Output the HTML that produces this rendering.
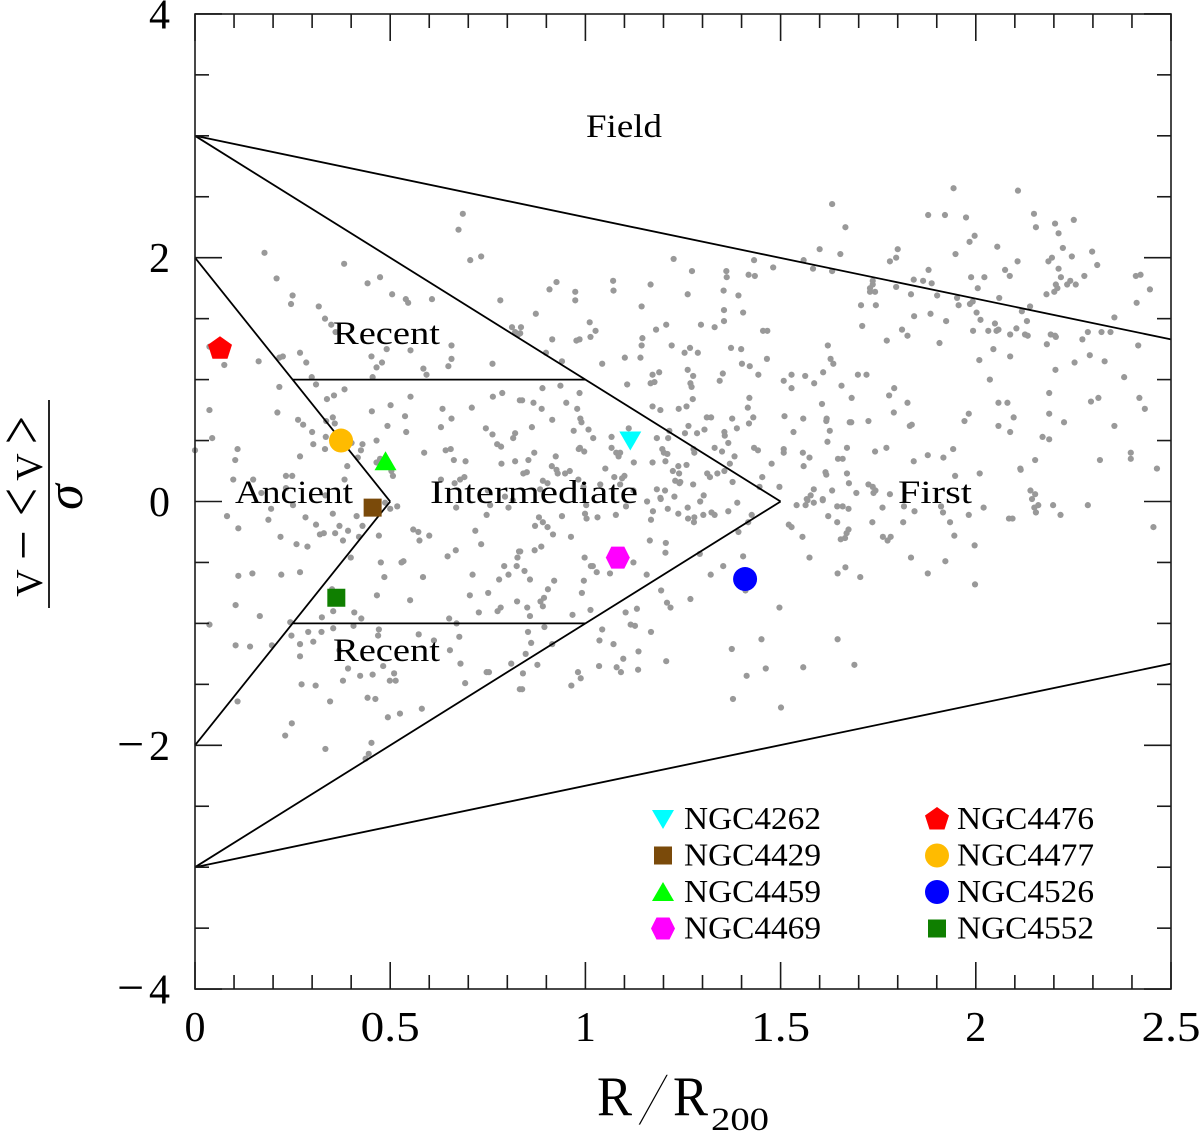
<!DOCTYPE html>
<html lang="en">
<head>
<meta charset="utf-8">
<title>Phase-space diagram</title>
<style>
html,body{margin:0;padding:0;background:#fff;width:1200px;height:1141px;overflow:hidden}
svg{display:block}
text{font-family:"Liberation Serif",serif;fill:#000}
</style>
</head>
<body>
<svg id="chart" xmlns="http://www.w3.org/2000/svg" width="1200" height="1141" viewBox="0 0 1200 1141">
<g id="points"></g>
<g id="regions"></g>
<g id="axes"></g>
<g id="region-labels" font-size="33">
<text x="586" y="137" textLength="76" lengthAdjust="spacingAndGlyphs">Field</text>
<text x="333" y="344" textLength="107" lengthAdjust="spacingAndGlyphs">Recent</text>
<text x="333" y="661" textLength="107" lengthAdjust="spacingAndGlyphs">Recent</text>
<text x="235" y="503" textLength="118" lengthAdjust="spacingAndGlyphs">Ancient</text>
<text x="430" y="503" textLength="208" lengthAdjust="spacingAndGlyphs">Intermediate</text>
<text x="898" y="503" textLength="74" lengthAdjust="spacingAndGlyphs">First</text>
</g>
<g id="markers"></g>
<g id="legend"></g>
<g>
<text x="597" y="1115" font-size="56" textLength="35" lengthAdjust="spacingAndGlyphs">R</text>
<text transform="translate(637,1125) skewX(-12)" font-size="78" style="stroke:#fff;stroke-width:2.2px">/</text>
<text x="673" y="1115" font-size="56" textLength="35" lengthAdjust="spacingAndGlyphs">R</text>
<text x="711" y="1130" font-size="33" textLength="58" lengthAdjust="spacingAndGlyphs">200</text>
</g>
<g>
<text transform="translate(42,583) rotate(-90)" font-size="38" text-anchor="middle">V</text>
<text transform="translate(41,545) rotate(-90)" font-size="53" text-anchor="middle">−</text>
<text transform="translate(42,502) rotate(-90) scale(1,1.25)" font-size="50" text-anchor="middle">&lt;</text>
<text transform="translate(42,467) rotate(-90)" font-size="38" text-anchor="middle">V</text>
<text transform="translate(42,430) rotate(-90) scale(1,1.25)" font-size="50" text-anchor="middle">&gt;</text>
<line x1="49" y1="400" x2="49" y2="608" stroke="#000" stroke-width="1.7"/>
<text transform="translate(82,497) rotate(-90)" font-size="52" font-style="italic" text-anchor="middle">σ</text>
</g>
</svg>
<script>
const xTicks = [0, 0.5, 1, 1.5, 2, 2.5];
const xTickLabels = ['0', '0.5', '1', '1.5', '2', '2.5'];
const yTicks = [-4, -2, 0, 2, 4];
const yTickLabels = ['−4', '−2', '0', '2', '4'];
const xMinorStep = 0.1;
const yMinorStep = 0.5;
const regionSegments = [
  [[0, 3], [2.5, 1.33]],
  [[0, -3], [2.5, -1.33]],
  [[0, 3], [1.5, 0]],
  [[1.5, 0], [0, -3]],
  [[0, 2], [0.5, 0]],
  [[0.5, 0], [0, -2]],
  [[0.25, 1], [1, 1]],
  [[0.25, -1], [1, -1]]
];
const galaxyNames = ['NGC4262', 'NGC4429', 'NGC4459', 'NGC4469', 'NGC4476', 'NGC4477', 'NGC4526', 'NGC4552'];
const galaxyRadius = [1.115, 0.455, 0.488, 1.083, 0.064, 0.374, 1.409, 0.362];
const galaxyVelocity = [0.50, -0.05, 0.33, -0.46, 1.257, 0.50, -0.636, -0.79];
const memberPoints = [
[.686,2.36],[.675,2.23],[.705,1.98],[.733,2.01],[.178,2.04],[.382,1.95],[.209,1.83],[.442,1.79],[.474,1.84],[.25,1.69],[.246,1.62],[.317,1.6],[.505,1.7],[.54,1.66],[.546,1.63],[.607,1.66],[.782,1.65],[.812,1.43],[.82,1.39],[.828,1.37],[.333,1.5],[.349,1.45],[.36,1.39],[.657,1.28],[.491,1.25],[.552,1.24],[.452,1.19],[.479,1.14],[.465,1.1],[.585,1.09],[.593,1.04],[.649,1.11],[.657,1.17],[.762,1.13],[.455,1.02],[.163,1.15],[.216,1.18],[.225,1.19],[.269,1.22],[.285,1.14],[.299,1.02],[.31,.96],[.075,1.12],[.037,1.27],[.216,.94],[.383,.92],[.356,.87],[.338,.84],[.552,.86],[.763,.86],[.787,.89],[.832,.83],[.501,.79],[.453,.74],[.634,.76],[.709,.77],[.037,.75],[.211,.73],[.264,.67],[.277,.63],[.336,.66],[.353,.69],[.358,.64],[.538,.7],[.657,.68],[.493,.62],[.63,.61],[.3,.57],[.335,.53],[.541,.57],[.745,.6],[.762,.55],[.82,.56],[.815,.52],[.044,.52],[.303,.47],[.333,.43],[.429,.47],[.425,.42],[.465,.5],[.774,.47],[.784,.45],[.109,.43],[0,.42],[.655,.43],[.642,.42],[.587,.4],[.269,.37],[.417,.36],[.103,.34],[.663,.34],[.693,.33],[.785,.31],[.82,.33],[.39,.29],[.465,.32],[.474,.35],[.401,.48],
[.098,.18],[.149,.18],[.233,.21],[.249,.21],[.383,.18],[.503,.25],[.507,.21],[.63,.18],[.665,.15],[.679,.18],[.69,.2],[.233,.11],[.334,.05],[.17,.07],[.251,-.03],[.195,-.06],[.082,-.12],[.188,-.15],[.283,-.13],[.353,-.1],[.414,-.12],[.31,-.19],[.37,-.2],[.429,-.2],[.111,-.22],[.219,-.29],[.32,-.27],[.33,-.26],[.359,-.26],[.392,-.24],[.379,-.32],[.42,-.29],[.471,-.28],[.26,-.35],[.288,-.37],[.399,-.46],[.476,-.5],[.529,-.5],[.534,-.49],[.111,-.61],[.147,-.59],[.221,-.6],[.269,-.58],[.485,-.62],[.584,-.62],[.351,-.72],[.466,-.77],[.551,-.81],[.104,-.85],[.166,-.94],[.354,-.9],[.325,-.95],[.408,-.91],[.426,-.96],[.037,-1.01],[.244,-.99],[.354,-1.04],[.406,-1.02],[.471,-1.05],[.469,-1.1],[.573,-1.09],[.612,-1.14],[.247,-1.1],[.29,-1.07],[.324,-1.07],[.303,-1.15],[.269,-1.17],[.104,-1.18],[.141,-1.19],[.197,-1.18],[.269,-1.27],[.37,-1.22],[.653,-1.22],[.677,-1.11],[.651,-.96],[.67,-1],[.482,-1.35],[.392,-1.37],[.423,-1.43],[.455,-1.42],[.51,-1.41],[.499,-1.47],[.514,-1.47],[.379,-1.47],[.273,-1.5],[.309,-1.51],[.109,-1.64],[.346,-1.64],[.442,-1.61],[.462,-1.62],[.581,-1.7],[.525,-1.74],[.494,-1.77],[.248,-1.82],[.231,-1.92],[.334,-2.03],[.452,-1.98],[.445,-2.07],[.437,-2.11],[.68,-1.33],[.81,-1.33],[.747,-1.4],[.753,-1.4],[.692,-1.49],[.832,-1.54],[.559,-.23],[.572,-.25],[.6,-.28],[.575,-.32],[.718,-.24],[.733,-.35],[.668,-.4],[.647,-.45],[.83,-.41],[.826,-.46],[.792,-.53],[.824,-.53],[.803,-.6],[.779,-.64],[.711,-.6],[.751,-.75],[.704,-.77],[.825,-.82],[.783,-.87],[.775,-.9],[.727,-.91],[.669,-.05],[.747,-.11],[.756,-.03],[.803,-.05],[.487,-.01],[.5,-.06],[.518,-.04],[.794,.04],[.814,.01],[.75,.09],
[1.632,2.44],[1.666,2.25],[1.6,2.07],[1.653,2.03],[1.432,1.98],[1.559,1.98],[1.226,1.99],[1.273,1.89],[1.361,1.89],[1.362,1.84],[1.418,1.86],[1.434,1.85],[1.481,1.92],[1.583,1.91],[1.632,1.89],[.926,1.8],[.908,1.74],[.974,1.72],[.974,1.65],[1.071,1.81],[1.072,1.73],[1.167,1.78],[1.262,1.7],[1.354,1.73],[1.392,1.69],[.873,1.54],[1.144,1.6],[1.355,1.57],[1.404,1.55],[1.355,1.48],[1.011,1.47],[1.026,1.4],[1.207,1.45],[1.181,1.41],[1.296,1.45],[1.331,1.43],[1.455,1.4],[1.466,1.4],[.835,1.43],[.833,1.38],[.915,1.33],[.977,1.32],[.985,1.33],[1.013,1.35],[1.146,1.34],[1.144,1.28],[1.221,1.28],[1.268,1.26],[1.254,1.22],[1.288,1.22],[1.373,1.26],[1.399,1.25],[1.621,1.28],[.899,1.22],[.94,1.15],[1.043,1.13],[1.101,1.18],[1.141,1.18],[1.465,1.17],[1.628,1.17],[1.635,1.13],[1.401,1.13],[1.421,1.11],[1.262,1.08],[1.189,1.06],[1.172,1.04],[1.276,1.03],[1.352,1.05],[1.443,1.04],[1.344,.99],[1.508,.99],[1.528,1.04],[1.563,1.03],[1.586,.97],[1.609,1.06],[1.528,.93],[1.656,.95],[1.107,.96],[1.167,.97],[1.177,.98],[1.269,.97],[1.272,.94],[.89,.93],[.936,.95],[.985,.89],[1.275,.84],[1.42,.85],[.838,.83],[.867,.81],[.951,.81],[.888,.76],[.979,.76],[1.172,.78],[1.192,.75],[1.239,.76],[1.259,.78],[1.416,.77],[1.606,.8],[1.51,.7],[1.558,.68],[.915,.67],[.987,.68],[.99,.65],[1.311,.69],[1.322,.69],[1.376,.68],[1.43,.69],[1.419,.64],[1.618,.68],[1.617,.66],[1.677,.65],[.863,.61],[.97,.58],[1.008,.59],[1.111,.6],[1.264,.62],[1.388,.6],[1.215,.58],[1.255,.56],[1.286,.56],[1.305,.59],[1.356,.57],[1.357,.54],[1.533,.57],[1.626,.58],[1.02,.52],[1.067,.53],[1.183,.52],[1.212,.52],[1.366,.48],[1.62,.49],[1.067,.44],[.983,.43],[.986,.44],[.997,.41],[1.197,.43],[1.277,.43],[1.279,.4],[1.331,.44],[1.35,.41],[1.432,.44],[1.442,.42],[1.508,.43],[1.508,.4],[1.557,.4],[1.574,.36],[1.67,.44],[.869,.4],[.854,.34],[.924,.37],[1.079,.4],[1.089,.4],[1.085,.37],[1.201,.4],[1.21,.39],[1.382,.37],[1.647,.35],[1.659,.35],[1.124,.32],[1.172,.32],[1.205,.33],[1.259,.3],[1.238,.29],[1.37,.31],[1.477,.31],[1.559,.29],[.914,.29],[1.051,.27],[.926,.26],[.929,.23],[.96,.25],[.948,.23],[.85,.24],[.841,.23],[1.224,.25],[1.356,.25],[1.24,.23],[1.312,.23],[1.338,.23],[1.615,.24],[1.617,.22],[1.67,.23],[1.319,.2],[1.453,.2],[1.074,.2],[1.1,.21],[1.094,.19],[1.089,.14],[1.23,.17],[1.243,.16],[1.241,.15],[.891,.17],[.903,.15],[.982,.18],[1.038,.14],[1.276,.14],[1.377,.16],[1.497,.12],[1.675,.15],[.884,.1],[.995,.12],[1.183,.1],[1.204,.09],[1.446,.12],[1.585,.1],[1.632,.09],[1.228,.04],[1.303,.05],[1.577,.05],[1.567,.02],[1.608,.02],[1.192,.03],[1.123,.09],
[1.158,0],[1.173,-.08],[1.211,-.06],[1.238,-.1],[1.262,-.05],[1.294,0],[1.389,-.01],[1.426,-.11],[1.366,-.08],[1.323,-.09],[1.331,-.11],[1.302,-.11],[1.279,-.13],[1.263,-.14],[1.278,-.17],[1.168,-.15],[1.193,.02],[1.078,-.11],[1.031,-.13],[1.003,-.14],[.999,-.1],[1.002,-.03],[1.104,-.04],[.94,-.12],[.881,-.13],[.891,-.17],[.871,-.2],[.903,-.21],[.917,-.27],[.963,-.29],[1.417,-.17],[1.392,-.25],[1.541,-.03],[1.564,-.03],[1.585,-.01],[1.608,.01],[1.569,.01],[1.521,-.19],[1.528,-.21],[1.556,-.29],[1.622,-.12],[1.645,-.04],[1.659,-.04],[1.645,-.17],[1.674,-.06],[1.674,-.23],[1.669,-.26],[1.665,-.3],[1.654,-.31],[1.165,-.32],[1.206,-.34],[1.205,-.42],[.887,-.37],[.87,-.4],[.833,-.41],[.998,-.46],[1.123,-.5],[1.293,-.43],[1.404,-.45],[1.574,-.46],[1.353,-.53],[1.014,-.53],[1.019,-.53],[1.029,-.58],[1.063,-.59],[.844,-.57],[.858,-.64],[.92,-.65],[.996,-.65],[1.321,-.6],[1.157,-.6],[1.194,-.73],[.904,-.72],[.991,-.75],[.894,-.79],[.885,-.82],[.891,-.86],[1.41,-.73],[1.269,-.8],[1.209,-.83],[1.218,-.87],[1.132,-.88],[1.103,-.91],[1.497,-.87],[1.013,-.89],[.851,-.87],[.858,-.94],[.967,-.93],[.895,-1.03],[1.646,-.59],[1.666,-.54],[1.043,-1.05],[1.116,-1.01],[1.127,-1.02],[1.168,-1.07],[.853,-1.07],[1.036,-1.14],[.861,-1.16],[.915,-1.17],[1.072,-1.17],[1.451,-1.13],[1.646,-1.13],[.847,-1.25],[1.375,-1.21],[1.136,-1.23],[1.097,-1.29],[.877,-1.34],[1.035,-1.35],[1.08,-1.36],[1.091,-1.4],[1.135,-1.38],[1.207,-1.31],[.84,-1.41],[.981,-1.4],[.988,-1.45],[.964,-1.51],[.838,-1.54],[1.413,-1.43],[1.462,-1.37],[1.558,-1.36],[1.378,-1.62],[1.501,-1.69],
[1.943,2.57],[2.108,2.55],[1.878,2.35],[1.921,2.35],[1.975,2.33],[2.149,2.36],[2.203,2.28],[2.251,2.31],[2.154,2.25],[2.212,2.2],[1.997,2.18],[1.984,2.13],[2.055,2.09],[2.223,2.08],[1.8,2.07],[2.298,2.05],[1.796,2],[1.948,2.03],[2.246,2.01],[1.78,1.97],[2.107,1.97],[2.195,2],[2.186,1.97],[2.311,1.94],[2.212,1.91],[1.879,1.9],[2.075,1.9],[2.087,1.85],[2.278,1.85],[1.988,1.84],[2.022,1.84],[2.218,1.84],[2.41,1.85],[2.422,1.86],[1.841,1.82],[1.865,1.81],[1.887,1.79],[1.736,1.81],[1.736,1.78],[1.729,1.75],[1.729,1.72],[1.742,1.72],[1.796,1.76],[2.005,1.75],[2.205,1.78],[2.234,1.78],[2.242,1.81],[2.256,1.78],[2.209,1.75],[2.446,1.74],[2.201,1.72],[2.181,1.7],[1.834,1.7],[1.901,1.69],[1.952,1.67],[2.06,1.67],[1.992,1.64],[1.985,1.62],[1.956,1.61],[1.706,1.61],[1.744,1.61],[2.412,1.63],[2.139,1.6],[2.118,1.56],[2.002,1.55],[2.355,1.51],[1.842,1.52],[1.884,1.54],[2.012,1.49],[2.131,1.48],[1.924,1.48],[2.049,1.46],[1.709,1.44],[1.811,1.41],[2.058,1.41],[2.053,1.4],[2.104,1.42],[1.993,1.4],[2.032,1.4],[1.825,1.36],[2.088,1.37],[2.126,1.37],[2.133,1.36],[2.192,1.37],[2.203,1.36],[2.205,1.35],[2.287,1.39],[2.322,1.39],[2.345,1.39],[1.772,1.32],[1.907,1.3],[2.182,1.29],[2.273,1.33],[2.416,1.28],[2.045,1.25],[2.088,1.19],[2.292,1.2],[2.009,1.16],[2.253,1.14],[2.33,1.15],[2.204,1.08],[1.698,1.04],[1.72,1.04],[2.036,1],[2.38,1.02],[1.791,.93],[1.778,.87],[1.682,.85],[2.188,.89],[2.314,.85],[2.419,.85],[2.295,.82],[1.825,.81],[2.058,.81],[2.081,.81],[2.433,.76],[1.79,.73],[1.982,.72],[2.188,.72],[2.097,.69],[1.681,.65],[1.725,.66],[1.971,.66],[2.226,.65],[1.836,.63],[1.831,.62],[2.058,.62],[2.355,.62],[2.088,.57],[2.171,.53],[2.188,.51],[1.742,.41],[1.771,.44],[1.942,.43],[2.397,.4],[1.877,.38],[1.917,.36],[1.841,.33],[2.152,.34],[2.318,.34],[2.397,.35],[2.114,.27],[2.464,.27],
[1.694,.07],[1.725,.14],[1.736,.12],[1.743,.09],[1.738,.07],[1.78,.06],[1.947,.21],[2.01,.23],[2.115,.26],[1.761,-.05],[1.816,-.04],[1.843,-.08],[1.911,-.04],[1.916,-.09],[1.982,-.11],[2.02,-.05],[2.14,.09],[2.152,.06],[2.144,.02],[2.15,-.05],[2.16,-.03],[2.154,-.09],[2.198,-.03],[2.287,-.03],[2.217,-.11],[1.934,-.17],[1.814,-.17],[1.735,-.17],[2.085,-.14],[2.094,-.14],[1.945,-.28],[1.762,-.29],[1.782,-.29],[1.774,-.32],[1.997,-.36],[2.455,-.21],[1.834,-.46],[1.922,-.49],[1.877,-.59],[1.704,-.62],[1.998,-.68],[1.689,-1.34]
];

const SVG_NS = 'http://www.w3.org/2000/svg';
function xScale(v) { return 195 + v * 390.4; }
function yScale(v) { return 501.5 - v * 121.9; }
const frame = { left: 195, right: 1171, top: 14, bottom: 989 };
const inkColor = '#1a1a1a';
const markerStyles = [
  { shape: 'tri-down', color: '#00ffff' },
  { shape: 'square', color: '#7a4a0a' },
  { shape: 'tri-up', color: '#00ff00' },
  { shape: 'hexagon', color: '#ff00ff' },
  { shape: 'pentagon', color: '#ff0000' },
  { shape: 'circle', color: '#ffbb00' },
  { shape: 'circle', color: '#0000ff' },
  { shape: 'square', color: '#0f7f00' }
];

function make(tag, attrs) {
  const el = document.createElementNS(SVG_NS, tag);
  for (const k in attrs) el.setAttribute(k, attrs[k]);
  return el;
}
function shapePoints(shape, cx, cy) {
  let pts = [];
  if (shape === 'tri-down') pts = [[-11, -9], [11, -9], [0, 10]];
  if (shape === 'tri-up') pts = [[0, -10], [11, 9], [-11, 9]];
  if (shape === 'square') pts = [[-9, -9], [9, -9], [9, 9], [-9, 9]];
  if (shape === 'hexagon') pts = [[-12, 0], [-6.5, -11], [6.5, -11], [12, 0], [6.5, 11], [-6.5, 11]];
  if (shape === 'pentagon') pts = [[0, -12], [12, -3.5], [7.5, 10.5], [-7.5, 10.5], [-12, -3.5]];
  return pts.map(function (p) { return (cx + p[0]) + ',' + (cy + p[1]); }).join(' ');
}
function drawMarker(parent, style, cx, cy, name) {
  let el;
  if (style.shape === 'circle') {
    el = make('circle', { cx: cx, cy: cy, r: 12, fill: style.color });
  } else {
    el = make('polygon', { points: shapePoints(style.shape, cx, cy), fill: style.color });
  }
  
  
  parent.appendChild(el);
}

const pointsGroup = document.getElementById('points');
memberPoints.forEach(function (p) {
  const c = make('circle', { cx: xScale(p[0]), cy: yScale(p[1]), r: 3.1, fill: '#999999' });
  
  
  pointsGroup.appendChild(c);
});

const regionsGroup = document.getElementById('regions');
regionSegments.forEach(function (s) {
  const l = make('line', { x1: xScale(s[0][0]), y1: yScale(s[0][1]), x2: xScale(s[1][0]), y2: yScale(s[1][1]), stroke: '#000', 'stroke-width': 1.8 });
  
  
  regionsGroup.appendChild(l);
});

const axesGroup = document.getElementById('axes');
const box = make('rect', { x: frame.left, y: frame.top, width: frame.right - frame.left, height: frame.bottom - frame.top, fill: 'none', stroke: inkColor, 'stroke-width': 1.6 });


axesGroup.appendChild(box);

function tickLine(x1, y1, x2, y2, name) {
  const t = make('line', { x1: x1, y1: y1, x2: x2, y2: y2, stroke: inkColor, 'stroke-width': 1.6 });
  
  
  axesGroup.appendChild(t);
}
for (let i = 0; i <= 25; i++) {
  const v = i * xMinorStep;
  const major = i % 5 === 0;
  const len = major ? 27 : 14;
  const px = xScale(v);
  tickLine(px, frame.bottom, px, frame.bottom - len, major ? 'x-major-tick' : 'x-minor-tick');
  tickLine(px, frame.top, px, frame.top + len, major ? 'x-top-major-tick' : 'x-top-minor-tick');
}
for (let i = -8; i <= 8; i++) {
  const v = i * yMinorStep;
  const major = i % 4 === 0;
  const len = major ? 27 : 14;
  const py = yScale(v);
  tickLine(frame.left, py, frame.left + len, py, major ? 'y-major-tick' : 'y-minor-tick');
  tickLine(frame.right, py, frame.right - len, py, major ? 'y-right-major-tick' : 'y-right-minor-tick');
}
xTicks.forEach(function (v, i) {
  const label = xTickLabels[i];
  const t = make('text', { x: xScale(v), y: 1041, 'font-size': 42, 'text-anchor': 'middle' });
  if (label.length > 1) {
    t.setAttribute('textLength', 59);
    t.setAttribute('lengthAdjust', 'spacingAndGlyphs');
  }
  
  
  t.textContent = label;
  axesGroup.appendChild(t);
});
yTicks.forEach(function (v, i) {
  const label = yTickLabels[i];
  const t = make('text', { x: 170, y: yScale(v) + 14.5, 'font-size': 42, 'text-anchor': 'end' });
  
  
  if (label.length > 1) {
    t.setAttribute('textLength', 53);
    t.setAttribute('lengthAdjust', 'spacing');
    const sign = make('tspan', { 'font-size': 48 });
    sign.textContent = label.charAt(0);
    const digit = make('tspan', {});
    digit.textContent = label.slice(1);
    t.appendChild(sign);
    t.appendChild(digit);
  } else {
    t.textContent = label;
  }
  axesGroup.appendChild(t);
});

const markersGroup = document.getElementById('markers');
galaxyNames.forEach(function (n, i) {
  drawMarker(markersGroup, markerStyles[i], xScale(galaxyRadius[i]), yScale(galaxyVelocity[i]), 'marker-' + n.toLowerCase());
});

const legendGroup = document.getElementById('legend');
galaxyNames.forEach(function (n, i) {
  const col = i < 4 ? 0 : 1;
  const row = i % 4;
  const markerX = col === 0 ? 663 : 937;
  const textX = col === 0 ? 684 : 957;
  const centerY = 819 + row * 36.5;
  drawMarker(legendGroup, markerStyles[i], markerX, centerY, 'legend-marker-' + n.toLowerCase());
  const t = make('text', { x: textX, y: centerY + 10, 'font-size': 32, textLength: 137, lengthAdjust: 'spacingAndGlyphs' });
  
  
  t.textContent = n;
  legendGroup.appendChild(t);
});
</script>
</body>
</html>
